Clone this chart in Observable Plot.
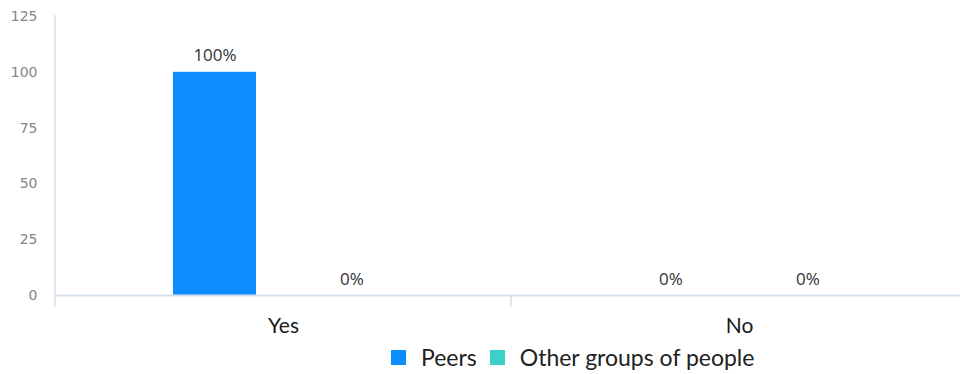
<!DOCTYPE html>
<html>
<head>
<meta charset="utf-8">
<script src="https://cdn.jsdelivr.net/npm/d3@7"></script>
<script src="https://cdn.jsdelivr.net/npm/@observablehq/plot@0.6"></script>
<style>
  body { margin: 0; overflow: hidden; background: #fff; }
  #chart { width: 967px; }
  #legend {
    display: flex; align-items: center; height: 34px;
    margin-left: 391px; font-family: Lato, sans-serif; font-size: 23px; color: #222;
  }
  #legend .item { display: flex; align-items: center; margin-right: 13px; }
  #legend .sw { width: 15px; height: 15px; margin-right: 15px; }
</style>
</head>
<body>
<div id="chart"></div>
<div id="legend"></div>
<script>
// Answers on the category axis, the two respondent groups as series
const answers = ["Yes", "No"];
const groups = ["Peers", "Other groups of people"];
const peers = [100, 0];
const others = [0, 0];
const yTicks = [0, 25, 50, 75, 100, 125];
const colors = ["#0b8dfd", "#3dcfc9"];
const axisColor = "#d5dfeb";

const series = [peers, others];
const rows = answers.flatMap((answer, i) =>
  groups.map((group, j) => ({answer, group, value: series[j][i]}))
);

const plot = Plot.plot({
  width: 967,
  height: 340,
  marginLeft: 55,
  marginRight: 0,
  marginTop: 16,
  marginBottom: 45,
  style: {fontFamily: "'Open Sans', sans-serif", background: "transparent"},
  fx: {domain: answers, padding: 0, label: null},
  x: {domain: groups, paddingInner: 0.391, paddingOuter: 0.848, axis: null},
  y: {domain: [0, 125], label: null},
  color: {domain: groups, range: colors},
  marks: [
    Plot.axisY({
      ticks: yTicks, tickSize: 0, tickPadding: 18, label: null,
      fontSize: 14, fontFamily: "'DejaVu Sans', sans-serif", color: "#888480"
    }),
    Plot.axisFx({
      anchor: "bottom", tickSize: 0, tickPadding: 23, label: null,
      fontSize: 21, fontFamily: "Lato, sans-serif", color: "#1a1a1a"
    }),
    Plot.barY(rows, {fx: "answer", x: "group", y: "value", fill: "group"}),
    Plot.ruleY([0], {stroke: axisColor, strokeWidth: 2}),
    Plot.text(rows, {
      fx: "answer", x: "group", y: "value",
      text: (d) => `${d.value}%`,
      lineAnchor: "bottom", dy: -11,
      fontSize: 17, fill: "#333"
    })
  ]
});

document.getElementById("chart").append(plot);

// Vertical axis line and the separator tick between answers
const fx = plot.scale("fx");
const y = plot.scale("y");
const svg = d3.select(plot);
const y0 = y.apply(0);
const lines = [
  {x: fx.apply(answers[0]), y1: y.apply(125) - 1, y2: y0 + 12},
  {x: fx.apply(answers[1]), y1: y0, y2: y0 + 12}
];
svg.append("g")
  .attr("stroke", axisColor)
  .attr("stroke-width", 1.5)
  .selectAll("line")
  .data(lines)
  .join("line")
  .attr("x1", (d) => d.x).attr("x2", (d) => d.x)
  .attr("y1", (d) => d.y1).attr("y2", (d) => d.y2);

// Legend below the chart
const legend = d3.select("#legend");
groups.forEach((g, i) => {
  const item = legend.append("div").attr("class", "item");
  item.append("div").attr("class", "sw").style("background", colors[i]);
  item.append("span").text(g);
});
</script>
</body>
</html>
